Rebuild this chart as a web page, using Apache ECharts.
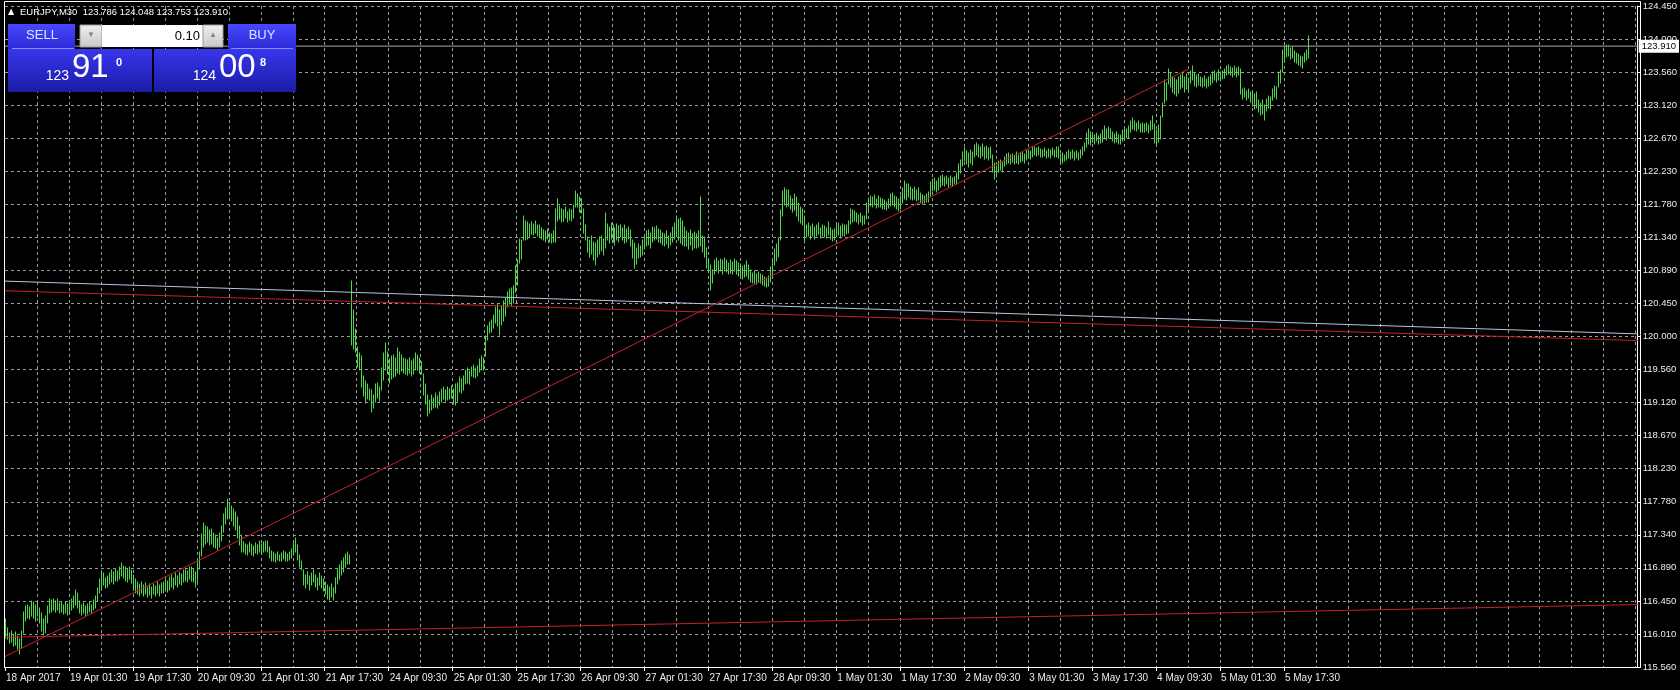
<!DOCTYPE html>
<html><head><meta charset="utf-8">
<script src="https://cdn.jsdelivr.net/npm/echarts@6/dist/echarts.min.js"></script>
<style>html,body{margin:0;padding:0;background:#000;}#c{width:1680px;height:690px;}</style>
</head><body><div id="c"></div>
<script>
// ---------- data ----------
const symbolName = 'EURJPY,M30';
const xTickLabels = ['18 Apr 2017','19 Apr 01:30','19 Apr 17:30','20 Apr 09:30','21 Apr 01:30','21 Apr 17:30','24 Apr 09:30','25 Apr 01:30','25 Apr 17:30','26 Apr 09:30','27 Apr 01:30','27 Apr 17:30','28 Apr 09:30','1 May 01:30','1 May 17:30','2 May 09:30','3 May 01:30','3 May 17:30','4 May 09:30','5 May 01:30','5 May 17:30'];
const yTickLabels = ['115.560','116.010','116.450','116.890','117.340','117.780','118.230','118.670','119.120','119.560','120.000','120.450','120.890','121.340','121.780','122.230','122.670','123.120','123.560','124.000','124.450'];
const priceMin = 115.56, priceMax = 124.45;
const barsPerLabel = 32, barsPerGrid = 16, slotCount = 818;

const barHigh = [
116.21,116.08,116.02,116.05,115.99,116.03,115.98,115.94,116.05,116.30,116.38,116.40,116.37,116.45,116.43,116.40,116.42,116.36,116.28,116.20,
116.25,116.38,116.47,116.46,116.48,116.45,116.47,116.42,116.44,116.40,116.43,116.41,116.45,116.48,116.52,116.60,116.55,116.45,116.40,116.42,
116.38,116.41,116.43,116.40,116.46,116.52,116.62,116.74,116.84,116.82,116.76,116.79,116.83,116.86,116.84,116.88,116.85,116.90,116.96,116.92,
116.90,116.88,116.91,116.86,116.80,116.74,116.70,116.67,116.70,116.66,116.69,116.64,116.67,116.63,116.68,116.65,116.70,116.66,116.69,116.70,
116.74,116.72,116.77,116.80,116.76,116.82,116.79,116.84,116.81,116.86,116.88,116.85,116.90,116.91,116.88,116.84,116.98,117.10,117.35,117.49,
117.46,117.44,117.40,117.42,117.36,117.34,117.30,117.36,117.46,117.62,117.70,117.82,117.76,117.72,117.68,117.64,117.58,117.45,117.34,117.24,
117.22,117.20,117.24,117.21,117.19,117.23,117.20,117.25,117.22,117.24,117.26,117.26,117.18,117.12,117.10,117.08,117.11,117.07,117.09,117.12,
117.10,117.08,117.11,117.15,117.24,117.30,117.20,117.06,116.98,116.86,116.80,116.84,116.78,116.82,116.86,116.80,116.76,116.82,116.78,116.74,
116.70,116.66,116.64,116.68,116.62,116.76,116.88,116.93,116.98,117.02,117.08,117.10,117.06,120.75,120.36,120.10,119.86,119.78,119.74,119.47,
119.40,119.36,119.30,119.28,119.22,119.36,119.38,119.32,119.58,119.78,119.92,119.80,119.70,119.74,119.76,119.72,119.85,119.80,119.76,119.72,
119.70,119.69,119.72,119.68,119.70,119.78,119.76,119.72,119.66,119.50,119.36,119.22,119.15,119.22,119.18,119.24,119.20,119.26,119.30,119.33,
119.29,119.32,119.30,119.34,119.30,119.36,119.38,119.46,119.44,119.48,119.55,119.58,119.54,119.60,119.62,119.58,119.61,119.70,119.74,119.72,
120.01,120.15,120.20,120.23,120.30,120.40,120.44,120.36,120.42,120.48,120.52,120.60,120.64,120.66,120.68,120.95,121.04,121.31,121.30,121.62,
121.56,121.54,121.52,121.55,121.52,121.56,121.51,121.50,121.46,121.44,121.42,121.45,121.40,121.38,121.42,121.72,121.85,121.76,121.72,121.70,
121.74,121.68,121.72,121.70,121.78,121.96,121.92,121.88,121.86,121.72,121.50,121.34,121.30,121.35,121.28,121.26,121.30,121.34,121.35,121.32,
121.67,121.52,121.48,121.53,121.50,121.46,121.52,121.49,121.51,121.47,121.50,121.45,121.48,121.44,121.30,121.26,121.20,121.25,121.22,121.30,
121.36,121.42,121.44,121.40,121.48,121.46,121.49,121.45,121.44,121.40,121.38,121.42,121.36,121.40,121.48,121.53,121.62,121.58,121.60,121.56,
121.48,121.42,121.40,121.44,121.38,121.41,121.39,121.42,121.88,121.36,121.34,121.20,121.04,120.96,120.90,121.04,121.06,121.02,121.05,121.03,
121.06,121.04,121.00,121.03,121.01,121.05,121.02,120.99,120.98,120.95,120.97,121.02,120.96,120.90,120.86,120.88,120.84,120.87,120.85,120.83,
120.81,120.79,120.82,120.94,121.04,121.18,121.25,121.33,121.70,121.96,122.00,121.98,121.97,121.90,121.86,121.92,121.88,121.80,121.75,121.72,
121.62,121.50,121.53,121.49,121.52,121.48,121.50,121.53,121.47,121.51,121.49,121.46,121.55,121.46,121.44,121.45,121.50,121.53,121.49,121.52,
121.50,121.51,121.56,121.72,121.70,121.69,121.66,121.64,121.67,121.63,121.62,121.80,121.87,121.90,121.88,121.91,121.86,121.89,121.87,121.85,
121.84,121.82,121.86,121.92,121.94,121.90,121.88,121.85,121.90,122.00,122.09,122.05,122.06,122.02,121.99,122.01,121.98,122.00,121.94,121.91,
121.89,121.92,121.95,122.08,122.12,122.14,122.10,122.13,122.16,122.18,122.15,122.17,122.14,122.16,122.13,122.15,122.20,122.32,122.38,122.48,
122.54,122.50,122.47,122.52,122.49,122.58,122.61,122.58,122.56,122.59,122.55,122.57,122.54,122.56,122.44,122.34,122.30,122.36,122.38,122.35,
122.42,122.46,122.47,122.44,122.46,122.43,122.48,122.45,122.47,122.49,122.46,122.51,122.52,122.50,122.55,122.56,122.54,122.56,122.53,122.52,
122.54,122.50,122.53,122.51,122.54,122.52,122.56,122.55,122.46,122.47,122.45,122.48,122.51,122.49,122.52,122.48,122.50,122.47,122.51,122.56,
122.61,122.74,122.79,122.76,122.74,122.72,122.74,122.70,122.73,122.78,122.83,122.80,122.82,122.79,122.76,122.73,122.75,122.71,122.72,122.78,
122.82,122.80,122.83,122.90,122.94,122.90,122.88,122.90,122.86,122.88,122.86,122.88,122.85,122.90,122.97,122.86,122.78,122.85,122.97,123.15,
123.46,123.42,123.60,123.55,123.50,123.48,123.46,123.49,123.52,123.55,123.50,123.53,123.48,123.58,123.64,123.55,123.52,123.54,123.50,123.48,
123.51,123.47,123.50,123.52,123.56,123.58,123.55,123.59,123.56,123.58,123.60,123.64,123.66,123.63,123.62,123.64,123.61,123.63,123.60,123.34,
123.35,123.31,123.33,123.30,123.28,123.26,123.29,123.18,123.15,123.19,123.12,123.20,123.24,123.22,123.34,123.37,123.36,123.56,123.59,123.86,
123.91,123.92,123.93,123.89,123.90,123.84,123.82,123.80,123.78,123.77,123.82,123.86,124.048];

const barLow = [
115.95,115.93,115.88,115.90,115.84,115.86,115.80,115.74,115.82,116.02,116.18,116.22,116.20,116.25,116.22,116.18,116.24,116.15,116.05,115.99,
116.02,116.15,116.28,116.30,116.32,116.30,116.33,116.28,116.30,116.27,116.29,116.26,116.30,116.33,116.36,116.40,116.35,116.28,116.26,116.28,
116.25,116.27,116.30,116.28,116.32,116.36,116.45,116.55,116.62,116.66,116.62,116.64,116.67,116.70,116.68,116.72,116.71,116.74,116.78,116.76,
116.72,116.70,116.74,116.69,116.62,116.56,116.54,116.52,116.55,116.52,116.54,116.50,116.53,116.49,116.54,116.51,116.55,116.52,116.55,116.56,
116.58,116.57,116.60,116.63,116.61,116.66,116.64,116.68,116.66,116.70,116.72,116.70,116.74,116.72,116.70,116.64,116.70,116.88,117.05,117.18,
117.22,117.24,117.20,117.22,117.18,117.16,117.14,117.18,117.26,117.38,117.48,117.55,117.56,117.52,117.46,117.40,117.30,117.20,117.10,117.10,
117.08,117.06,117.10,117.07,117.05,117.09,117.08,117.11,117.08,117.10,117.12,117.10,117.02,116.98,116.99,116.97,117.00,116.98,116.99,117.01,
116.99,116.98,117.00,117.02,117.06,117.10,117.00,116.90,116.86,116.66,116.62,116.68,116.60,116.66,116.70,116.64,116.60,116.66,116.62,116.58,
116.54,116.48,116.46,116.50,116.46,116.55,116.68,116.74,116.80,116.84,116.90,116.94,116.95,119.89,119.84,119.80,119.60,119.56,119.32,119.20,
119.11,119.16,119.15,118.99,119.04,119.12,119.18,119.14,119.28,119.42,119.55,119.50,119.38,119.44,119.46,119.48,119.52,119.50,119.54,119.52,
119.50,119.49,119.52,119.48,119.50,119.56,119.55,119.52,119.50,119.22,119.10,118.94,118.98,119.02,119.04,119.06,119.05,119.08,119.12,119.16,
119.14,119.15,119.16,119.18,119.10,119.08,119.14,119.26,119.24,119.28,119.36,119.38,119.36,119.48,119.46,119.45,119.48,119.53,119.56,119.55,
119.74,119.96,120.05,120.06,120.12,120.18,120.14,120.02,120.16,120.22,120.28,120.40,120.44,120.42,120.45,120.60,120.70,121.00,121.05,121.30,
121.30,121.32,121.34,121.38,121.37,121.40,121.36,121.34,121.32,121.30,121.28,121.31,121.27,121.26,121.28,121.28,121.56,121.58,121.55,121.56,
121.60,121.55,121.57,121.56,121.60,121.74,121.75,121.68,121.66,121.40,121.30,121.14,121.08,121.12,121.04,120.96,121.08,121.12,121.15,121.10,
121.20,121.30,121.26,121.32,121.28,121.24,121.30,121.28,121.34,121.30,121.26,121.28,121.32,121.22,121.06,120.92,120.98,121.06,121.08,121.10,
121.18,121.22,121.24,121.20,121.28,121.30,121.32,121.27,121.26,121.24,121.22,121.25,121.20,121.24,121.28,121.32,121.36,121.30,121.26,121.24,
121.22,121.22,121.18,121.24,121.17,121.20,121.19,121.21,121.22,121.14,121.08,120.92,120.88,120.63,120.72,120.84,120.88,120.86,120.88,120.85,
120.89,120.87,120.84,120.86,120.85,120.88,120.84,120.82,120.80,120.78,120.81,120.82,120.78,120.74,120.72,120.73,120.71,120.74,120.72,120.70,
120.68,120.67,120.69,120.74,120.82,120.96,121.02,121.08,121.30,121.62,121.78,121.75,121.76,121.72,121.68,121.70,121.62,121.56,121.53,121.50,
121.26,121.34,121.36,121.32,121.35,121.31,121.36,121.38,121.33,121.36,121.34,121.33,121.37,121.32,121.29,121.30,121.34,121.37,121.33,121.36,
121.35,121.38,121.40,121.52,121.55,121.56,121.54,121.52,121.55,121.50,121.52,121.58,121.70,121.76,121.74,121.77,121.73,121.75,121.74,121.72,
121.72,121.70,121.73,121.76,121.78,121.74,121.72,121.69,121.72,121.80,121.86,121.84,121.88,121.85,121.84,121.86,121.83,121.84,121.80,121.79,
121.80,121.81,121.82,121.90,121.96,121.98,121.95,121.97,122.02,122.04,122.03,122.05,122.02,122.04,122.03,122.05,122.06,122.12,122.20,122.30,
122.36,122.32,122.29,122.34,122.31,122.42,122.44,122.42,122.40,122.43,122.39,122.41,122.38,122.40,122.22,122.12,122.15,122.22,122.24,122.22,
122.30,122.33,122.34,122.32,122.35,122.33,122.34,122.33,122.35,122.36,122.34,122.38,122.40,122.39,122.42,122.44,122.43,122.44,122.42,122.42,
122.43,122.40,122.42,122.41,122.44,122.42,122.42,122.40,122.32,122.34,122.36,122.38,122.40,122.39,122.41,122.38,122.40,122.38,122.40,122.44,
122.50,122.56,122.60,122.58,122.62,122.60,122.63,122.59,122.61,122.62,122.66,122.65,122.67,122.68,122.63,122.61,122.62,122.60,122.59,122.64,
122.66,122.67,122.68,122.76,122.80,122.78,122.77,122.79,122.76,122.76,122.75,122.77,122.74,122.78,122.80,122.61,122.58,122.62,122.66,122.96,
123.14,123.18,123.40,123.36,123.30,123.26,123.24,123.28,123.33,123.36,123.30,123.34,123.31,123.42,123.45,123.38,123.36,123.39,123.37,123.36,
123.38,123.35,123.37,123.39,123.42,123.45,123.43,123.46,123.44,123.47,123.48,123.52,123.54,123.52,123.50,123.52,123.50,123.52,123.27,123.20,
123.22,123.19,123.21,123.16,123.10,123.06,123.08,123.02,122.98,123.00,122.92,123.04,123.08,123.06,123.18,123.22,123.20,123.36,123.42,123.56,
123.70,123.76,123.78,123.74,123.75,123.70,123.68,123.66,123.64,123.62,123.70,123.72,123.753];

const lastBar = {open: 123.786, high: 124.048, low: 123.753, close: 123.910};
const askPrice = 124.008;
const lotSize = '0.10';

// trend lines as [bar slot, price]
const blueTrend  = [[0, 120.75], [817, 120.04]];
const redChannel = [[0, 120.62], [817, 119.95]];
const redSupport = [[0, 115.96], [817, 116.40]];
const redRise    = [[0, 115.70], [592, 123.60]];

// ---------- chart ----------
const FONT = "'Liberation Sans',Arial,sans-serif";
const BAR_COLOR = '#4ada4a';
const GRID_COLOR = '#9a9a9a';
const RED = '#c8202a';
const lastLabelSlot = (xTickLabels.length - 1) * barsPerLabel;
const slots = Array.from({length: slotCount}, (_, i) => String(i));
const barData = barHigh.map((h, i) => [i, barLow[i], h]);

function renderBar(params, api) {
  const i = api.value(0);
  const pL = api.coord([i, api.value(1)]);
  const pH = api.coord([i, api.value(2)]);
  const x = Math.round(pL[0]) + 0.5;
  return {type: 'line', silent: true,
    shape: {x1: x, y1: Math.round(pL[1]) + 0.5, x2: x, y2: Math.round(pH[1]) - 0.5},
    style: {stroke: BAR_COLOR, lineWidth: 1}};
}

function trend(data, color) {
  return {type: 'line', data: data, symbol: 'none', silent: true, z: 4,
    lineStyle: {color: color, width: 1}};
}

const blueGrad = () => new echarts.graphic.LinearGradient(0, 0, 0, 1, [{offset: 0, color: '#4848ff'}, {offset: 1, color: '#2a2ad6'}]);
const panelGrad = () => new echarts.graphic.LinearGradient(0, 0, 0, 1, [{offset: 0, color: '#3737ec'}, {offset: 1, color: '#1b1ba8'}]);
const greyGrad = () => new echarts.graphic.LinearGradient(0, 0, 0, 1, [{offset: 0, color: '#f0f0f0'}, {offset: 1, color: '#c8c8c8'}]);
const fmt3 = v => v.toFixed(3);
const bidStr = fmt3(lastBar.close), askStr = fmt3(askPrice);

const chart = echarts.init(document.getElementById('c'));
chart.setOption({
  backgroundColor: '#000',
  animation: false,
  grid: {left: 5, right: 40, top: 6, bottom: 23},
  xAxis: {
    type: 'category', data: slots, boundaryGap: false,
    axisLine: {show: true, lineStyle: {color: '#fff', width: 1}},
    axisTick: {show: true, length: 4, interval: (i) => i % barsPerLabel === 0 && i <= lastLabelSlot, lineStyle: {color: '#fff'}},
    axisLabel: {
      interval: (i) => i % barsPerLabel === 0 && i <= lastLabelSlot,
      formatter: (v) => xTickLabels[Number(v) / barsPerLabel] || '',
      align: 'left', color: '#ececec', fontSize: 10, fontFamily: FONT, margin: 6, padding: [0, 0, 0, 1]
    },
    splitLine: {show: true, interval: (i) => i % barsPerGrid === 0 && i > 0, lineStyle: {color: GRID_COLOR, type: [3, 3], width: 1}}
  },
  yAxis: [
    {type: 'value', min: priceMin, max: priceMax, show: false},
    {type: 'value', min: 0, max: yTickLabels.length - 1, interval: 1, position: 'right',
      axisLine: {show: true, lineStyle: {color: '#fff'}},
      axisTick: {show: true, length: 3, lineStyle: {color: '#fff'}},
      axisLabel: {formatter: (v) => yTickLabels[v], color: '#ececec', fontSize: 9.5, fontFamily: FONT, margin: 5},
      splitLine: {show: true, lineStyle: {color: GRID_COLOR, type: [3, 3], width: 1}}}
  ],
  series: [
    {type: 'custom', xAxisIndex: 0, yAxisIndex: 0, data: barData, encode: {x: 0, y: [1, 2]}, renderItem: renderBar, z: 3, clip: true},
    trend(blueTrend, '#b4c8e4'),
    trend(redChannel, RED),
    trend(redSupport, RED),
    trend(redRise, RED),
    {type: 'line', data: [[0, lastBar.close], [slotCount - 1, lastBar.close]], symbol: 'none', silent: true, z: 5,
      lineStyle: {color: '#a8a8a8', width: 1},
      endLabel: {show: true, formatter: bidStr, backgroundColor: '#fff', color: '#000', fontSize: 9.5, fontFamily: FONT, padding: [2, 3, 1, 3], distance: 1}}
  ],
  graphic: [
    {type: 'rect', z: 50, silent: true, shape: {x: 4.5, y: 1.5, width: 1636, height: 666}, style: {fill: 'none', stroke: '#fff', lineWidth: 1}},
    {type: 'text', z: 60, x: 8, y: 12, style: {text: '\u25B2', fill: '#fff', font: '8px DejaVu Sans', verticalAlign: 'middle'}},
    {type: 'text', z: 60, x: 20, y: 12, style: {text: symbolName + '  ' + [lastBar.open, lastBar.high, lastBar.low, lastBar.close].map(fmt3).join(' '), fill: '#fff', font: '9.5px ' + FONT, verticalAlign: 'middle'}},
    // one-click trading panel
    {type: 'rect', z: 60, shape: {x: 8, y: 24, width: 67, height: 25}, style: {fill: blueGrad()}},
    {type: 'rect', z: 60, shape: {x: 228, y: 24, width: 68, height: 25}, style: {fill: blueGrad()}},
    {type: 'rect', z: 60, shape: {x: 8, y: 49, width: 144, height: 43}, style: {fill: panelGrad()}},
    {type: 'rect', z: 60, shape: {x: 154, y: 49, width: 142, height: 43}, style: {fill: panelGrad()}},
    {type: 'line', z: 61, shape: {x1: 12, y1: 48.5, x2: 74, y2: 48.5}, style: {stroke: '#8a8aff', lineWidth: 1}},
    {type: 'line', z: 61, shape: {x1: 231, y1: 48.5, x2: 293, y2: 48.5}, style: {stroke: '#8a8aff', lineWidth: 1}},
    {type: 'text', z: 62, x: 42, y: 35, style: {text: 'SELL', fill: '#dfe4ff', font: '13px ' + FONT, align: 'center', verticalAlign: 'middle'}},
    {type: 'text', z: 62, x: 262, y: 35, style: {text: 'BUY', fill: '#dfe4ff', font: '13px ' + FONT, align: 'center', verticalAlign: 'middle'}},
    {type: 'rect', z: 60, shape: {x: 80, y: 25, width: 22, height: 22}, style: {fill: greyGrad(), stroke: '#9a9a9a'}},
    {type: 'rect', z: 60, shape: {x: 102, y: 25, width: 101, height: 22}, style: {fill: '#fff'}},
    {type: 'rect', z: 60, shape: {x: 203, y: 25, width: 20, height: 22}, style: {fill: greyGrad(), stroke: '#9a9a9a'}},
    {type: 'text', z: 62, x: 91, y: 35, style: {text: '\u25BE', fill: '#808080', font: '9px DejaVu Sans', align: 'center', verticalAlign: 'middle'}},
    {type: 'text', z: 62, x: 213, y: 35, style: {text: '\u25B4', fill: '#808080', font: '9px DejaVu Sans', align: 'center', verticalAlign: 'middle'}},
    {type: 'text', z: 62, x: 200, y: 36, style: {text: lotSize, fill: '#000', font: '13px ' + FONT, align: 'right', verticalAlign: 'middle'}},
    {type: 'text', z: 62, x: 69, y: 76, style: {text: bidStr.slice(0, 3), fill: '#fff', font: '14px ' + FONT, align: 'right', verticalAlign: 'middle'}},
    {type: 'text', z: 62, x: 72, y: 68, style: {text: bidStr.slice(4, 6), fill: '#fff', font: '33px ' + FONT, align: 'left', verticalAlign: 'middle'}},
    {type: 'text', z: 62, x: 116, y: 63, style: {text: bidStr.slice(6), fill: '#fff', font: 'bold 11px ' + FONT, align: 'left', verticalAlign: 'middle'}},
    {type: 'text', z: 62, x: 216, y: 76, style: {text: askStr.slice(0, 3), fill: '#fff', font: '14px ' + FONT, align: 'right', verticalAlign: 'middle'}},
    {type: 'text', z: 62, x: 219, y: 68, style: {text: askStr.slice(4, 6), fill: '#fff', font: '33px ' + FONT, align: 'left', verticalAlign: 'middle'}},
    {type: 'text', z: 62, x: 260, y: 63, style: {text: askStr.slice(6), fill: '#fff', font: 'bold 11px ' + FONT, align: 'left', verticalAlign: 'middle'}}
  ]
});
</script>
</body></html>
